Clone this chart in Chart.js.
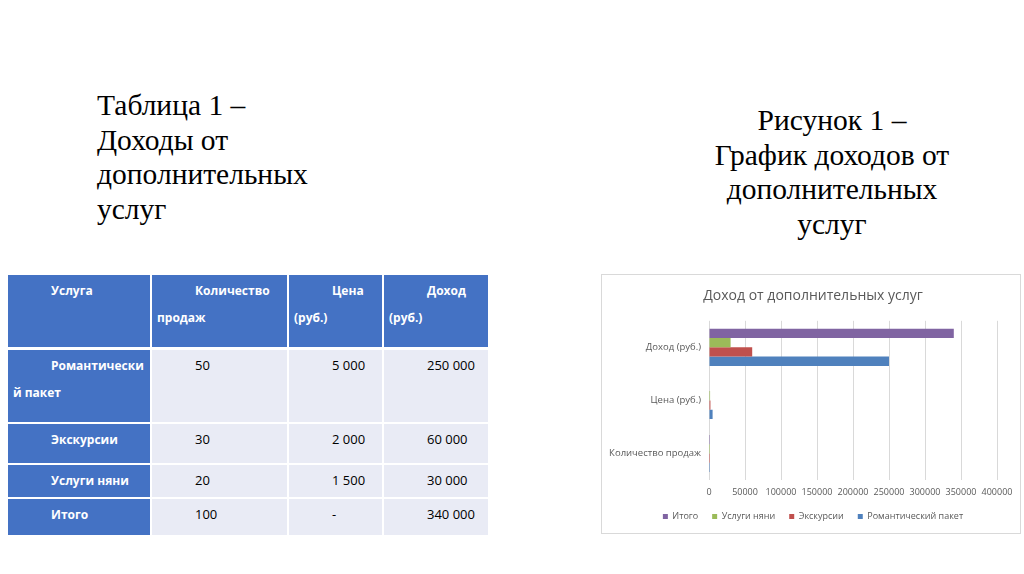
<!DOCTYPE html>
<html>
<head>
<meta charset="utf-8">
<script src="https://cdn.jsdelivr.net/npm/chart.js@4/dist/chart.umd.min.js"></script>
<style>
  html, body { margin:0; padding:0; background:#fff; }
  body { width:1024px; height:574px; position:relative; overflow:hidden; font-family:"Open Sans", sans-serif; }
  .heading { position:absolute; font-family:"Liberation Serif", "Times New Roman", serif; font-size:29.5px; line-height:34.5px; color:#000; }
  #hLeft { left:97px; top:88px; text-align:left; }
  #hRight { left:670px; width:324px; top:103px; text-align:center; }
  .cell { position:absolute; box-sizing:border-box; padding:1.5px 4px 0 5px; font-size:13px; line-height:27px; text-indent:38px; color:#000; white-space:nowrap; }
  .hd { background:#4472C4; color:#fff; font-weight:bold; font-size:12px; }
  .bd { background:#E9EBF5; }
  #chartBox { position:absolute; left:601px; top:274px; width:420px; height:260px; box-sizing:border-box; border:1px solid #D9D9D9; background:#fff; }
  #chartBox canvas { position:absolute; left:0; top:0; }
</style>
</head>
<body>
<div class="heading" id="hLeft">Таблица 1 –<br>Доходы от<br>дополнительных<br>услуг</div>
<div class="heading" id="hRight">Рисунок 1 –<br>График доходов от<br>дополнительных<br>услуг</div>
<div id="table"></div>
<div id="chartBox"><canvas id="c" width="418" height="258"></canvas></div>
<script>
// ---- data ----
const tableHeaders = ["Услуга", "Количество<br>продаж", "Цена<br>(руб.)", "Доход<br>(руб.)"];
const services = ["Романтически<br>й пакет", "Экскурсии", "Услуги няни", "Итого"];
const salesCount = ["50", "30", "20", "100"];
const priceText = ["5 000", "2 000", "1 500", "-"];
const incomeText = ["250 000", "60 000", "30 000", "340 000"];

const chartTitle = "Доход от дополнительных услуг";
const categories = ["Доход (руб.)", "Цена (руб.)", "Количество продаж"];
const seriesNames = ["Итого", "Услуги няни", "Экскурсии", "Романтический пакет"];
const totalValues = [340000, null, 100];
const nannyValues = [30000, 1500, 20];
const excursionValues = [60000, 2000, 30];
const romanticValues = [250000, 5000, 50];
const seriesColors = ["#8064A2", "#9BBB59", "#C0504D", "#4F81BD"];

// ---- table ----
const colX = [[8,150],[152,287],[289,382],[384,488]];
const rowY = [[275,347],[350,422],[424,463],[465,497],[499,535]];
const tbl = document.getElementById('table');
function addCell(r, c, html, cls) {
  const d = document.createElement('div');
  d.className = 'cell ' + cls;
  d.style.left = colX[c][0] + 'px';
  d.style.width = (colX[c][1] - colX[c][0]) + 'px';
  d.style.top = rowY[r][0] + 'px';
  d.style.height = (rowY[r][1] - rowY[r][0]) + 'px';
  d.innerHTML = html;
  tbl.appendChild(d);
}
tableHeaders.forEach((h, c) => addCell(0, c, h, 'hd'));
services.forEach((s, i) => {
  addCell(i + 1, 0, s, 'hd');
  addCell(i + 1, 1, salesCount[i], 'bd');
  addCell(i + 1, 2, priceText[i], 'bd');
  addCell(i + 1, 3, incomeText[i], 'bd');
});

// ---- chart ----
const seriesValues = [totalValues, nannyValues, excursionValues, romanticValues];
const shiftBlocks = {
  id: 'shiftBlocks',
  afterLayout(chart) {
    [chart.legend, chart.titleBlock].forEach(b => { if (b) { b.left += 10; b.right += 10; } });
  }
};
new Chart(document.getElementById('c'), {
  type: 'bar',
  data: {
    labels: categories,
    datasets: seriesNames.map((n, i) => ({
      label: n,
      data: seriesValues[i],
      backgroundColor: seriesColors[i],
      borderWidth: 0,
      categoryPercentage: 0.7,
      barPercentage: 1.0
    }))
  },
  plugins: [shiftBlocks],
  options: {
    indexAxis: 'y',
    responsive: false,
    animation: false,
    devicePixelRatio: 1,
    layout: { padding: { left: 7, right: 23, top: 0, bottom: 2 } },
    plugins: {
      title: {
        display: true, text: chartTitle, color: '#595959',
        font: { family: 'Open Sans', size: 14, weight: 'normal' },
        padding: { top: 13, bottom: 16 }
      },
      legend: {
        position: 'bottom',
        labels: {
          color: '#595959', boxWidth: 5, boxHeight: 5, padding: 14,
          font: { family: 'Open Sans', size: 9 }
        }
      },
      tooltip: { enabled: false }
    },
    scales: {
      x: {
        min: 0, max: 400000,
        ticks: { stepSize: 50000, color: '#595959', padding: 7, maxRotation: 0, minRotation: 0, autoSkip: false,
                 font: { family: 'Open Sans', size: 9 }, callback: v => String(v) },
        grid: { color: '#D9D9D9', drawTicks: false },
        border: { display: false },
        afterFit: s => { s.height = 18; }
      },
      y: {
        ticks: { color: '#595959', padding: 8, font: { family: 'Open Sans', size: 9.5 } },
        grid: { display: false, drawTicks: false },
        border: { display: false },
        afterFit: s => { s.width = 100; }
      }
    }
  }
});
</script>
</body>
</html>
